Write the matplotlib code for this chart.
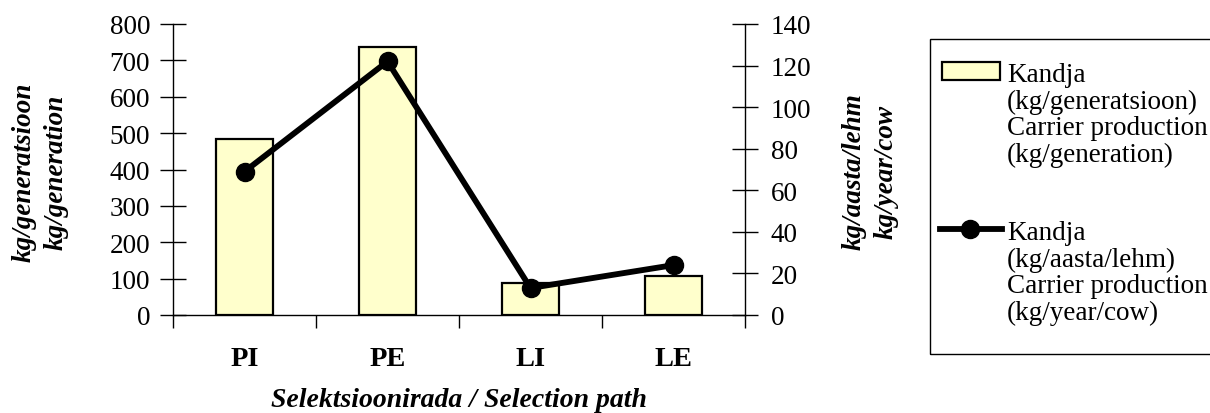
import matplotlib
matplotlib.use("Agg")
import matplotlib.pyplot as plt
from matplotlib.patches import Rectangle
from matplotlib.lines import Line2D

plt.rcParams['font.family'] = ['Liberation Serif', 'DejaVu Serif']
plt.rcParams['font.size'] = 19.5

categories = ["PI", "PE", "LI", "LE"]
kg_per_generation = [485, 737, 88, 108]
kg_per_year_cow = [69, 122, 13, 24]

left_ticks = [0, 100, 200, 300, 400, 500, 600, 700, 800]
right_ticks = [0, 20, 40, 60, 80, 100, 120, 140]

W, H = 1210, 414
fig = plt.figure(figsize=(W / 100, H / 100), dpi=100)
ax = fig.add_axes([173 / W, 1 - 316 / H, (745 - 173) / W, (316 - 25) / H])
ax2 = ax.twinx()

x = list(range(len(categories)))
ax.bar(x, kg_per_generation, width=0.4, color="#FFFFCC", edgecolor="black", linewidth=1.6, zorder=2)
ax.set_xlim(-0.5, len(categories) - 0.5)
ax.set_ylim(0, 800)
ax.set_yticks(left_ticks)
ax.set_xticks(x)
ax.set_xticklabels(categories, fontweight="bold", fontsize=20.5)
ax.set_xticks([i - 0.5 for i in range(len(categories) + 1)], minor=True)
ax.tick_params(axis="x", which="major", length=0, pad=22)
ax.tick_params(axis="x", which="minor", length=9, width=1, direction="out")
ax.tick_params(axis="y", direction="inout", length=19, width=1, pad=7)

ax2.plot(x, kg_per_year_cow, color="black", linewidth=4.2, marker="o", markersize=13, zorder=3)
ax2.set_ylim(0, 140)
ax2.set_yticks(right_ticks)
ax2.tick_params(axis="y", direction="inout", length=19, width=1, pad=9)

for a in (ax, ax2):
    a.spines["top"].set_visible(False)
    for s in ("left", "right", "bottom"):
        a.spines[s].set_linewidth(1)
ax.spines["right"].set_visible(False)
ax2.spines["left"].set_visible(False)
ax2.spines["bottom"].set_visible(False)

# axis titles
lab = dict(rotation=90, ha="center", va="center", fontweight="bold", fontstyle="italic")
fig.text(24 / W, 1 - 172 / H, "kg/generatsioon", **lab)
fig.text(56 / W, 1 - 172 / H, "kg/generation", **lab)
fig.text(854 / W, 1 - 172 / H, "kg/aasta/lehm", **lab)
fig.text(886 / W, 1 - 172 / H, "kg/year/cow", **lab)
fig.text(459 / W, 1 - 407 / H, "Selektsioonirada / Selection path", ha="center", va="baseline",
         fontweight="bold", fontstyle="italic", fontsize=20)

# legend box
fig.patches.append(Rectangle((930 / W, 1 - 355 / H), 300 / W, 315 / H, transform=fig.transFigure,
                             fill=False, edgecolor="black", linewidth=1))
fig.patches.append(Rectangle((942 / W, 1 - 81 / H), 58 / W, 18 / H, transform=fig.transFigure,
                             facecolor="#FFFFCC", edgecolor="black", linewidth=1.6))
fig.lines.append(Line2D([940 / W, 1002 / W], [1 - 230 / H, 1 - 230 / H], transform=fig.transFigure,
                        color="black", linewidth=4.2))
fig.lines.append(Line2D([970 / W], [1 - 230 / H], transform=fig.transFigure,
                        color="black", marker="o", markersize=13))
leg1 = ["Kandja", "(kg/generatsioon)", "Carrier production", "(kg/generation)"]
leg2 = ["Kandja", "(kg/aasta/lehm)", "Carrier production", "(kg/year/cow)"]
for i, t in enumerate(leg1):
    fig.text(1007 / W, 1 - (82 + 26.7 * i) / H, t, ha="left", va="baseline")
for i, t in enumerate(leg2):
    fig.text(1007 / W, 1 - (240 + 26.7 * i) / H, t, ha="left", va="baseline")

fig.savefig("out.png", dpi=100)
